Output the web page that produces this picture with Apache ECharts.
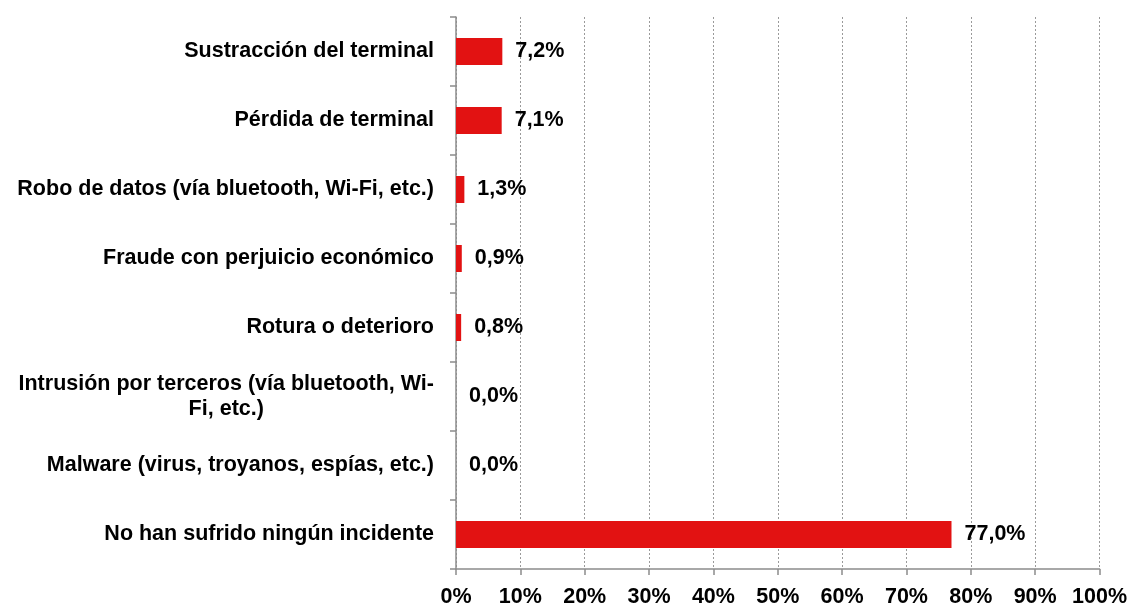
<!DOCTYPE html>
<html>
<head>
<meta charset="utf-8">
<script src="https://cdn.jsdelivr.net/npm/echarts@6/dist/echarts.min.js"></script>
<style>
  html, body { margin: 0; padding: 0; background: #fff; }
  #chart { width: 1130px; height: 608px; }
</style>
</head>
<body>
<div id="chart"></div>
<script>
// Incidents reported with mobile terminals (share of respondents, %)
const categories = [
  'Sustracción del terminal',
  'Pérdida de terminal',
  'Robo de datos (vía bluetooth, Wi-Fi, etc.)',
  'Fraude con perjuicio económico',
  'Rotura o deterioro',
  'Intrusión por terceros (vía bluetooth, Wi-\nFi, etc.)',
  'Malware (virus, troyanos, espías, etc.)',
  'No han sufrido ningún incidente'
];
const values = [7.2, 7.1, 1.3, 0.9, 0.8, 0.0, 0.0, 77.0];
const xTicks = [0, 10, 20, 30, 40, 50, 60, 70, 80, 90, 100];

const FONT = '"Liberation Sans", Arial, sans-serif';
const FS = 21.5;
const AXIS_GREY = '#8c8c8c';

const chart = echarts.init(document.getElementById('chart'), null, { renderer: 'canvas' });

chart.setOption({
  animation: false,
  backgroundColor: '#ffffff',
  grid: { left: 456, right: 28, top: 17, bottom: 38, containLabel: false },
  xAxis: {
    type: 'value',
    min: xTicks[0],
    max: xTicks[xTicks.length - 1],
    interval: 10,
    axisLine: { show: true, lineStyle: { color: AXIS_GREY, width: 1.5 } },
    axisTick: { show: true, length: 6, lineStyle: { color: AXIS_GREY, width: 1.5 } },
    axisLabel: {
      color: '#000',
      fontFamily: FONT,
      fontWeight: 'bold',
      fontSize: FS,
      margin: 17,
      formatter: v => v + '%'
    },
    splitLine: { show: true, lineStyle: { color: '#9a9a9a', width: 1, type: [2, 2] } }
  },
  yAxis: {
    type: 'category',
    inverse: true,
    data: categories,
    boundaryGap: true,
    axisLine: { show: true, lineStyle: { color: AXIS_GREY, width: 1.5 } },
    axisTick: { show: true, length: 6, lineStyle: { color: AXIS_GREY, width: 1.5 } },
    axisLabel: {
      color: '#000',
      fontFamily: FONT,
      fontWeight: 'bold',
      fontSize: FS,
      margin: 22,
      lineHeight: 25,
      formatter: function (val) {
        const parts = val.split('\n');
        if (parts.length === 1) return val;
        return '{a|' + parts[0] + '}\n{b|' + parts[1] + '}';
      },
      rich: {
        a: { fontFamily: FONT, fontWeight: 'bold', fontSize: FS, color: '#000', lineHeight: 25 },
        b: { fontFamily: FONT, fontWeight: 'bold', fontSize: FS, color: '#000', lineHeight: 25, align: 'center' }
      }
    },
    splitLine: { show: false }
  },
  series: [{
    type: 'bar',
    data: values,
    barWidth: 27,
    itemStyle: { color: '#e21212' },
    label: {
      show: true,
      position: 'right',
      distance: 13,
      color: '#000',
      fontFamily: FONT,
      fontWeight: 'bold',
      fontSize: FS,
      formatter: p => p.value.toFixed(1).replace('.', ',') + '%'
    }
  }]
});
</script>
</body>
</html>
